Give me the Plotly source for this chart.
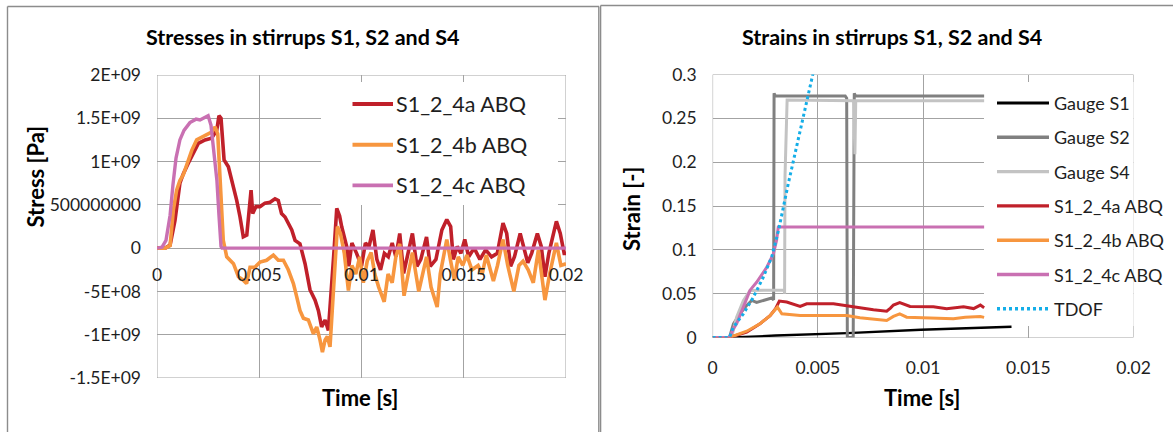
import plotly.graph_objects as go

W, H = 1173, 432

# ---------------- Stresses (left chart) ----------------
stress_a_time = [0, 0.0004, 0.00064, 0.00088, 0.00112, 0.00129, 0.00153, 0.00178, 0.00202, 0.00235,
                 0.00267, 0.00292, 0.00303, 0.00313, 0.00328, 0.00349, 0.00365, 0.0039, 0.00406, 0.00422,
                 0.00439, 0.00452, 0.0046, 0.00468, 0.00484, 0.00504, 0.00528, 0.00553, 0.00577, 0.00593,
                 0.00609, 0.00626, 0.00642, 0.00659, 0.00675, 0.00699, 0.00724, 0.00748, 0.00773, 0.00789,
                 0.00805, 0.00822, 0.00838, 0.00854, 0.00866, 0.00879, 0.00893, 0.00903, 0.00928, 0.00938,
                 0.00953, 0.00976, 0.0100, 0.01019, 0.01037, 0.01056, 0.01075, 0.01093, 0.01112, 0.01131,
                 0.0115, 0.01168, 0.01187, 0.01206, 0.01224, 0.01249, 0.01271, 0.0129, 0.01318, 0.01336,
                 0.01364, 0.01393, 0.01417, 0.01436, 0.01449, 0.01468, 0.01486, 0.01505, 0.01524, 0.01551,
                 0.01579, 0.01607, 0.01636, 0.01664, 0.01692, 0.0171, 0.01729, 0.01748, 0.01776, 0.01794,
                 0.01813, 0.01832, 0.0186, 0.01879, 0.01897, 0.01916, 0.01953, 0.01972, 0.01991, 0.02]
stress_a = [0, 0, 0.035e9, 0.32e9, 0.75e9, 0.86e9, 0.98e9, 1.09e9, 1.21e9, 1.25e9,
            1.27e9, 1.36e9, 1.53e9, 1.50e9, 1.02e9, 0.94e9, 0.80e9, 0.55e9, 0.36e9, 0.13e9,
            0.15e9, 0.44e9, 0.67e9, 0.40e9, 0.48e9, 0.48e9, 0.52e9, 0.53e9, 0.57e9, 0.55e9,
            0.40e9, 0.36e9, 0.29e9, 0.21e9, 0.09e9, 0.05e9, -0.18e9, -0.48e9, -0.60e9, -0.72e9,
            -0.91e9, -0.83e9, -0.95e9, -0.48e9, -0.02e9, 0.46e9, 0.37e9, 0.25e9, 0.015e9, -0.21e9,
            0.06e9, -0.06e9, -0.21e9, 0.06e9, 0.02e9, 0.21e9, -0.13e9, -0.25e9, -0.06e9, -0.10e9,
            0.06e9, -0.10e9, 0.17e9, -0.29e9, -0.10e9, 0.17e9, -0.21e9, -0.13e9, 0.13e9, -0.21e9,
            -0.13e9, 0.21e9, 0.33e9, 0.25e9, -0.13e9, 0.02e9, -0.06e9, 0.10e9, -0.10e9, 0.0,
            -0.13e9, -0.02e9, -0.10e9, -0.06e9, 0.29e9, 0.17e9, -0.21e9, -0.10e9, 0.17e9, 0.02e9,
            -0.17e9, -0.06e9, 0.17e9, 0.02e9, -0.33e9, -0.06e9, 0.31e9, 0.17e9, -0.06e9, -0.06e9]

stress_b_time = [0, 0.0004, 0.00064, 0.0008, 0.00096, 0.00112, 0.00129, 0.00153, 0.0017, 0.00194,
                 0.00219, 0.00243, 0.00267, 0.00284, 0.00297, 0.00308, 0.00316, 0.00324, 0.00341, 0.00374,
                 0.00398, 0.00422, 0.00438, 0.00455, 0.00479, 0.00504, 0.00536, 0.00569, 0.00593, 0.00618,
                 0.00642, 0.00667, 0.00683, 0.00699, 0.00716, 0.0074, 0.00765, 0.00781, 0.00797, 0.00809,
                 0.00822, 0.00833, 0.00846, 0.00857, 0.0087, 0.00882, 0.00897, 0.00916, 0.00936, 0.00953,
                 0.00972, 0.00991, 0.01009, 0.01028, 0.01047, 0.01065, 0.01084, 0.01111, 0.0113, 0.0115,
                 0.01168, 0.01187, 0.01208, 0.01225, 0.01249, 0.0128, 0.01299, 0.01318, 0.0134, 0.0137,
                 0.01385, 0.014, 0.01417, 0.01436, 0.01454, 0.01473, 0.01495, 0.01515, 0.0154, 0.0157,
                 0.0159, 0.0161, 0.01645, 0.01665, 0.01692, 0.01715, 0.01745, 0.0177, 0.0179, 0.01815,
                 0.0184, 0.01865, 0.0188, 0.01897, 0.0192, 0.01953, 0.01975, 0.02]
stress_b = [0, 0, 0.03e9, 0.44e9, 0.67e9, 0.78e9, 0.85e9, 1.02e9, 1.13e9, 1.25e9,
            1.28e9, 1.30e9, 1.34e9, 1.40e9, 1.32e9, 0.82e9, 0.44e9, 0.09e9, -0.10e9, -0.18e9,
            -0.33e9, -0.37e9, -0.41e9, -0.22e9, -0.22e9, -0.16e9, -0.14e9, -0.08e9, -0.14e9, -0.14e9,
            -0.25e9, -0.41e9, -0.56e9, -0.72e9, -0.81e9, -0.83e9, -0.99e9, -0.91e9, -1.06e9, -1.20e9,
            -1.06e9, -1.02e9, -1.14e9, -0.75e9, -0.25e9, 0.25e9, 0.17e9, -0.06e9, -0.49e9, -0.20e9,
            -0.30e9, -0.10e9, -0.40e9, -0.15e9, -0.05e9, -0.30e9, -0.45e9, -0.62e9, -0.30e9, -0.40e9,
            -0.10e9, 0.05e9, -0.55e9, -0.35e9, -0.05e9, -0.50e9, -0.28e9, -0.10e9, -0.45e9, -0.68e9,
            -0.30e9, -0.10e9, 0.10e9, -0.15e9, -0.37e9, -0.10e9, -0.20e9, -0.08e9, -0.25e9, -0.20e9,
            -0.30e9, -0.08e9, -0.38e9, -0.20e9, 0.10e9, -0.20e9, -0.50e9, -0.20e9, -0.15e9, -0.25e9,
            -0.40e9, -0.02e9, -0.30e9, -0.60e9, -0.30e9, 0.06e9, -0.20e9, -0.18e9]

stress_c_time = [0, 0.00024, 0.00044, 0.00064, 0.00078, 0.00093, 0.00112, 0.00132, 0.00161, 0.00191,
                 0.0021, 0.0023, 0.0025, 0.00264, 0.00279, 0.00293, 0.00303, 0.00313, 0.00318, 0.02]
stress_c = [0, 0.01e9, 0.09e9, 0.38e9, 0.73e9, 1.04e9, 1.25e9, 1.36e9, 1.45e9, 1.49e9,
            1.48e9, 1.51e9, 1.53e9, 1.42e9, 1.13e9, 0.78e9, 0.38e9, 0.02e9, 0, 0]

stress_names = ["S1_2_4a ABQ", "S1_2_4b ABQ", "S1_2_4c ABQ"]
stress_ticks = [-1.5e9, -1e9, -5e8, 0, 5e8, 1e9, 1.5e9, 2e9]
stress_tick_text = ["-1.5E+09", "-1E+09", "-5E+08", "0", "500000000", "1E+09", "1.5E+09", "2E+09"]

# ---------------- Strains (right chart) ----------------
gauge_s1_time = [0, 0.0009, 0.003, 0.0064, 0.0099, 0.0125, 0.0142]
gauge_s1 = [0, 0, 0.0022, 0.005, 0.0088, 0.0108, 0.0122]

gauge_s2_time = [0, 0.0008, 0.00099, 0.0013, 0.00162, 0.00186, 0.00209, 0.00241, 0.00281, 0.0029,
                 0.00292, 0.00298, 0.0063, 0.00637, 0.0064, 0.00668, 0.00673, 0.00679, 0.0129]
gauge_s2 = [0, 0, 0.0156, 0.027, 0.0366, 0.0423, 0.040, 0.042, 0.045, 0.043,
            0.2785, 0.2755, 0.2755, 0.273, 0.0, 0.0, 0.2785, 0.2755, 0.2755]

gauge_s4_time = [0, 0.0009, 0.00114, 0.00146, 0.00178, 0.0025, 0.0034, 0.00342, 0.00344, 0.00354,
                 0.0067, 0.00676, 0.0068, 0.0129]
gauge_s4 = [0, 0, 0.023, 0.042, 0.0537, 0.054, 0.054, 0.050, 0.184, 0.271,
            0.270, 0.209, 0.270, 0.270]

strain_a_time = [0, 0.0008, 0.00162, 0.00225, 0.00273, 0.00299, 0.00317, 0.00352, 0.00416, 0.00447,
                 0.00574, 0.00637, 0.007, 0.00764, 0.00827, 0.00845, 0.00859, 0.00889, 0.00938, 0.01049,
                 0.01112, 0.01192, 0.0124, 0.01272, 0.0129]
strain_a = [0, 0, 0.0061, 0.0156, 0.025, 0.033, 0.0415, 0.0404, 0.0354, 0.0385,
            0.0385, 0.0366, 0.034, 0.0316, 0.030, 0.0335, 0.037, 0.0399, 0.0354, 0.035,
            0.0328, 0.035, 0.033, 0.037, 0.034]

strain_b_time = [0, 0.0008, 0.00162, 0.00225, 0.00273, 0.00308, 0.00329, 0.00416, 0.00574, 0.00637,
                 0.007, 0.00764, 0.00827, 0.00859, 0.00889, 0.00922, 0.01049, 0.01144, 0.012, 0.01272,
                 0.0129]
strain_b = [0, 0, 0.0072, 0.0156, 0.025, 0.0347, 0.027, 0.025, 0.025, 0.025,
            0.0225, 0.021, 0.0194, 0.024, 0.027, 0.0232, 0.0225, 0.0213, 0.023, 0.024,
            0.023]

strain_c_time = [0, 0.0008, 0.00099, 0.00114, 0.00146, 0.00178, 0.00209, 0.00257, 0.00289, 0.00304,
                 0.00312, 0.0129]
strain_c = [0, 0, 0.0099, 0.0156, 0.0347, 0.054, 0.063, 0.08, 0.0956, 0.111,
            0.126, 0.126]

tdof_time = [0, 0.0008, 0.00099, 0.00146, 0.00194, 0.00241, 0.00281, 0.00313, 0.0036, 0.00408,
             0.00476, 0.0049]
tdof = [0, 0, 0.0118, 0.027, 0.046, 0.069, 0.092, 0.122, 0.176, 0.228,
        0.30, 0.315]

strain_names = ["Gauge S1", "Gauge S2", "Gauge S4", "S1_2_4a ABQ", "S1_2_4b ABQ", "S1_2_4c ABQ", "TDOF"]
strain_ticks = [0, 0.05, 0.1, 0.15, 0.2, 0.25, 0.3]
strain_tick_text = ["0", "0.05", "0.1", "0.15", "0.2", "0.25", "0.3"]

time_ticks = [0, 0.005, 0.01, 0.015, 0.02]
time_tick_text = ["0", "0.005", "0.01", "0.015", "0.02"]

# ---------------- styling ----------------
RED, ORANGE, PINK = "#C0202A", "#F7963F", "#C970B2"
DARK_GREY, LIGHT_GREY, BLUE = "#808080", "#C3C3C3", "#14AEE8"
GRID = "#A3A3A3"
FRAME = "#8C8C8C"
TEXT = "#1E1E1E"
FONT = "Lato"

STRESS_RANGE = [-1.5e9, 2e9]
STRAIN_RANGE = [0, 0.3]
TIME_RANGE = [0, 0.02]


def px(x):
    return x / W


def py(y):
    return 1 - y / H


stress_styles = [dict(color=RED, width=3.6), dict(color=ORANGE, width=3.6), dict(color=PINK, width=3.4)]
strain_styles = [dict(color="#000000", width=2.4), dict(color=DARK_GREY, width=3),
                 dict(color=LIGHT_GREY, width=3), dict(color=RED, width=3),
                 dict(color=ORANGE, width=3), dict(color=PINK, width=3),
                 dict(color=BLUE, width=3, dash="3px,3px")]

fig = go.Figure()

stress_series = [(stress_a_time, stress_a), (stress_b_time, stress_b), (stress_c_time, stress_c)]
for (t, v), name, style in zip(stress_series, stress_names, stress_styles):
    fig.add_trace(go.Scatter(x=t, y=v, name=name, mode="lines", line=style,
                             xaxis="x", yaxis="y", showlegend=False))

strain_series = [(gauge_s1_time, gauge_s1), (gauge_s2_time, gauge_s2), (gauge_s4_time, gauge_s4),
                 (strain_a_time, strain_a), (strain_b_time, strain_b), (strain_c_time, strain_c),
                 (tdof_time, tdof)]
for (t, s), name, style in zip(strain_series, strain_names, strain_styles):
    fig.add_trace(go.Scatter(x=t, y=s, name=name, mode="lines", line=style,
                             xaxis="x2", yaxis="y2", showlegend=False))

# plot-area geometry (pixels)
L_LEFT, L_RIGHT, L_TOP, L_BOTTOM = 157, 566, 75, 378
R_LEFT, R_RIGHT, R_TOP, R_BOTTOM = 712.6, 1133.6, 74.5, 337.5
L_ZERO = L_TOP + (L_BOTTOM - L_TOP) * 2e9 / 3.5e9

tick_font = dict(family=FONT, size=17.5, color=TEXT)
axis_common = dict(showgrid=True, gridcolor=GRID, gridwidth=1, zeroline=False, automargin=False,
                   showline=False, ticks="", tickmode="array", fixedrange=True)

fig.update_layout(
    width=W, height=H,
    margin=dict(l=0, r=0, t=0, b=0, pad=0, autoexpand=False),
    paper_bgcolor="white", plot_bgcolor="white",
    showlegend=False,
    xaxis=dict(axis_common, domain=[px(L_LEFT), px(L_RIGHT)], range=TIME_RANGE,
               tickvals=time_ticks, ticktext=time_tick_text, tickfont=tick_font,
               anchor="free", position=py(L_ZERO), ticklabelstandoff=14),
    yaxis=dict(axis_common, domain=[py(L_BOTTOM), py(L_TOP)], range=STRESS_RANGE,
               tickvals=stress_ticks, ticktext=stress_tick_text, tickfont=tick_font,
               anchor="x", ticklabelstandoff=15),
    xaxis2=dict(axis_common, domain=[px(R_LEFT), px(R_RIGHT)], range=TIME_RANGE,
                tickvals=time_ticks, ticktext=time_tick_text,
                tickfont=tick_font, anchor="y2", ticklabelstandoff=18),
    yaxis2=dict(axis_common, domain=[py(R_BOTTOM), py(R_TOP)], range=STRAIN_RANGE,
                tickvals=strain_ticks, ticktext=strain_tick_text,
                tickfont=tick_font, anchor="x2", ticklabelstandoff=15),
)

shapes = []


def frame_line(x0, y0, x1, y1):
    shapes.append(dict(type="line", xref="paper", yref="paper", x0=px(x0), x1=px(x1), y0=py(y0), y1=py(y1),
                       line=dict(color=FRAME, width=1.4), layer="above"))


# outer chart frames (their lower and right edges run off the page)
frame_line(7.5, 6.5, 7.5, 432)
frame_line(7.5, 6.5, 599, 6.5)
frame_line(598.8, 6.5, 598.8, 432)
frame_line(600.6, 5.5, 600.6, 432)
frame_line(600.6, 5.5, 1173, 5.5)

# plot-area borders (drawn between gridlines and traces)
for xa, ya, yr in (("x", "y", STRESS_RANGE), ("x2", "y2", STRAIN_RANGE)):
    shapes.append(dict(type="rect", xref=xa, yref=ya, x0=TIME_RANGE[0], x1=TIME_RANGE[1], y0=yr[0], y1=yr[1],
                       line=dict(color=GRID, width=1), fillcolor="rgba(0,0,0,0)", layer="between"))


def box(xa, ya, left, right, top, bottom, yr, x0, x1, y0, y1):
    """White legend background given in pixels, converted to the subplot's data units."""
    def tx(p):
        return TIME_RANGE[0] + (p - left) / (right - left) * (TIME_RANGE[1] - TIME_RANGE[0])

    def ty(p):
        return yr[0] + (bottom - p) / (bottom - top) * (yr[1] - yr[0])

    shapes.append(dict(type="rect", xref=xa, yref=ya, x0=tx(x0), x1=tx(x1), y0=ty(y0), y1=ty(y1),
                       line=dict(width=0), fillcolor="white", layer="between"))


box("x", "y", L_LEFT, L_RIGHT, L_TOP, L_BOTTOM, STRESS_RANGE, 321, 558, 205, 82)
box("x2", "y2", R_LEFT, R_RIGHT, R_TOP, R_BOTTOM, STRAIN_RANGE, 984, 1136, 326, 82)

annotations = []


def legend(names, styles, x0, x1, y_first, step, size, text_x):
    for i, (name, style) in enumerate(zip(names, styles)):
        y = y_first + i * step
        shapes.append(dict(type="line", xref="paper", yref="paper", x0=px(x0), x1=px(x1), y0=py(y), y1=py(y),
                           line=dict(color=style["color"], width=style["width"] + 0.4,
                                     dash=style.get("dash", "solid")), layer="above"))
        annotations.append(dict(text=name, xref="paper", yref="paper", x=px(text_x), y=py(y),
                                xanchor="left", yanchor="middle", showarrow=False,
                                font=dict(family=FONT, size=size, color=TEXT)))


legend(stress_names, stress_styles, 352.5, 393, 104, 40.7, 21.5, 394)
legend(strain_names, strain_styles, 997, 1049, 103, 34.3, 18, 1052)


def label(text, x, y, size, angle=0):
    annotations.append(dict(text=text, xref="paper", yref="paper", x=px(x), y=py(y),
                            xanchor="center", yanchor="middle", showarrow=False, textangle=angle,
                            font=dict(family=FONT, size=size, color="#000000")))


label("<b>Stresses in stirrups S1, S2 and S4</b>", 302, 37, 21.5)
label("<b>Strains in stirrups S1, S2 and S4</b>", 891.5, 37, 21.5)
label("<b>Time [s]</b>", 360, 397, 22)
label("<b>Time [s]</b>", 921.5, 397, 22)
label("<b>Stress [Pa]</b>", 34.5, 177, 22, -90)
label("<b>Strain [-]</b>", 631, 209, 22, -90)

fig.update_layout(shapes=shapes, annotations=annotations)

fig.write_html("out.html")
